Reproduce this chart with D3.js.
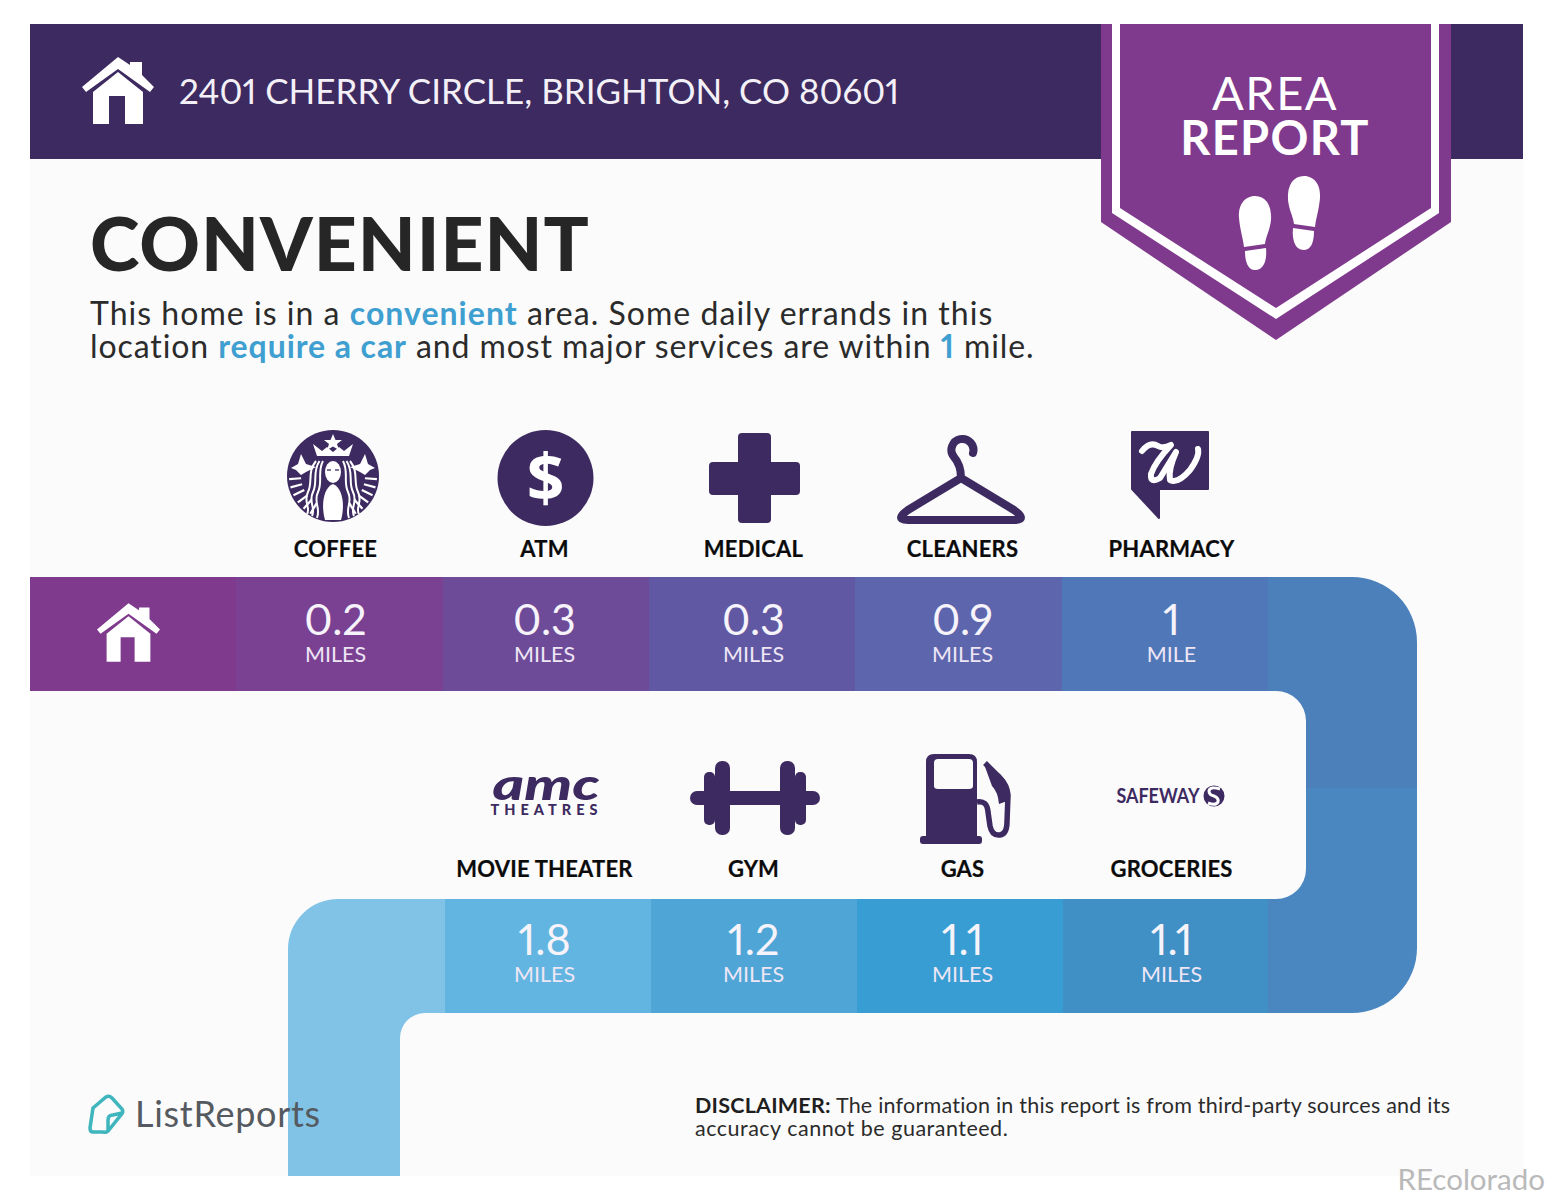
<!DOCTYPE html>
<html>
<head>
<meta charset="utf-8">
<style>
html, body { margin: 0; padding: 0; background: #fff; }
text { font-family: Lato, "Open Sans", sans-serif; font-variant-numeric: proportional-nums; }
</style>
<script src="https://cdn.jsdelivr.net/npm/d3@7"></script>
</head>
<body>
<div id="chart"></div>
<script>
// values
var topCategories = ["COFFEE", "ATM", "MEDICAL", "CLEANERS", "PHARMACY"];
var topMiles = [0.2, 0.3, 0.3, 0.9, 1];
var bottomCategories = ["MOVIE THEATER", "GYM", "GAS", "GROCERIES"];
var bottomMiles = [1.8, 1.2, 1.1, 1.1];
var address = "2401 CHERRY CIRCLE, BRIGHTON, CO 80601";
var bodyLine1 = [["This home is in a ", 0], ["convenient", 1], [" area. Some daily errands in this", 0]];
var bodyLine2 = [["location ", 0], ["require a car", 1], [" and most major services are within ", 0], ["1", 1], [" mile.", 0]];
var disclaimerLine1 = [["DISCLAIMER:", 1], [" The information in this report is from third-party sources and its", 0]];
var disclaimerLine2 = [["accuracy cannot be guaranteed.", 0]];

var dark = "#3c2a60", purple = "#7f3a8d", blue = "#3f9fd0";

var svg = d3.select("#chart").append("svg")
	.attr("width", 1553)
	.attr("height", 1200)
	.style("display", "block");

svg.append("rect").attr("x", 30).attr("y", 24).attr("width", 1493).attr("height", 1152).attr("fill", "#fbfbfb");
svg.append("rect").attr("x", 30).attr("y", 24).attr("width", 1493).attr("height", 135).attr("fill", dark);

// scales for the two rows of the ribbon
var topBand = d3.scaleBand().domain(d3.range(6)).range([30, 1268]);
var bottomBand = d3.scaleBand().domain(d3.range(4)).range([445, 1269]);
var columnX = d3.scalePoint().domain(d3.range(5)).range([335.5, 1171.5]);
var topColor = d3.scaleOrdinal().domain(d3.range(6))
	.range(["#7f3a8d", "#7a4193", "#6e4b98", "#6058a3", "#5d65ad", "#5078b8"]);
var bottomColor = d3.scaleOrdinal().domain(d3.range(4))
	.range(["#62b5e0", "#4fa6d6", "#389dd3", "#408fc5"]);

// ribbon outline, every segment gets clipped to it
var ribbon = "M30 577 H1352 A65 65 0 0 1 1417 642 V948 A65 65 0 0 1 1352 1013 H425 A25 25 0 0 0 400 1038 V1176 H288 V949 "
	+ "A50 50 0 0 1 338 899 H1276 A30 30 0 0 0 1306 869 V721 A30 30 0 0 0 1276 691 H30 Z";
svg.append("clipPath").attr("id", "ribbonClip").append("path").attr("d", ribbon);
var ribbonG = svg.append("g").attr("clip-path", "url(#ribbonClip)").attr("shape-rendering", "crispEdges");

ribbonG.selectAll(".top").data(d3.range(6)).enter().append("rect")
	.attr("x", function(d) { return topBand(d); })
	.attr("y", 577)
	.attr("width", topBand.bandwidth() + 0.5)
	.attr("height", 114)
	.attr("fill", function(d) { return topColor(d); });
ribbonG.selectAll(".bottom").data(d3.range(4)).enter().append("rect")
	.attr("x", function(d) { return bottomBand(d); })
	.attr("y", 899)
	.attr("width", bottomBand.bandwidth() + 0.5)
	.attr("height", 114)
	.attr("fill", function(d) { return bottomColor(d); });
ribbonG.append("rect").attr("x", 1268).attr("y", 577).attr("width", 150).attr("height", 211).attr("fill", "#4c80bb");
ribbonG.append("rect").attr("x", 1268).attr("y", 788).attr("width", 150).attr("height", 226).attr("fill", "#4a87c1");
ribbonG.append("rect").attr("x", 287).attr("y", 899).attr("width", 158).attr("height", 278).attr("fill", "#80c3e7");

function drawRow(cats, miles, offset, labelY, valueY, unitY) {
	var g = svg.append("g").attr("text-anchor", "middle");
	g.selectAll(".label").data(cats).enter().append("text")
		.attr("x", function(d, i) { return columnX(i + offset); })
		.attr("y", labelY)
		.attr("font-size", 22).attr("font-weight", 700).attr("letter-spacing", 0.2).attr("fill", "#0b0b0b")
		.attr("stroke", "#0b0b0b").attr("stroke-width", 0.2)
		.text(function(d) { return d; });
	g.selectAll(".value").data(miles).enter().append("text")
		.attr("x", function(d, i) { return columnX(i + offset); })
		.attr("y", valueY)
		.attr("font-size", 43).attr("font-weight", 400).attr("fill", "#f6f3fa")
		.text(function(d) { return d; });
	g.selectAll(".unit").data(miles).enter().append("text")
		.attr("x", function(d, i) { return columnX(i + offset); })
		.attr("y", unitY)
		.attr("font-size", 21.5).attr("font-weight", 400).attr("fill", "#eee6f5")
		.text(function(d) { return d === 1 ? "MILE" : "MILES"; });
}
drawRow(topCategories, topMiles, 0, 557, 635, 662);
drawRow(bottomCategories, bottomMiles, 1, 877, 955, 982);

// house icon, drawn around its own centre
function house(x, y, k) {
	var g = svg.append("g").attr("transform", "translate(" + x + "," + y + ") scale(" + k + ")").attr("fill", "#fff");
	g.append("path").attr("d", "M0 -33 L12 -25 V-28 H24 V-15 L36 -3 L32 2 L0 -21 L-32 2 L-36 -3 Z");
	g.append("path").attr("d", "M0 -18 L25 2 V34 H7 V6 H-9 V34 H-25 V2 Z");
}
house(118, 90, 1);
house(128.5, 632, 0.875);

// header
svg.append("text").attr("x", 179).attr("y", 104)
	.attr("font-size", 35).attr("fill", "#f4f0f7")
	.text(address);

// badge
svg.append("path").attr("d", "M1101 24 H1451 V222 L1276 340 L1101 222 Z").attr("fill", purple);
svg.append("path").attr("d", "M1112 24 H1120 V208 L1276 308 L1431 208 V24 H1439 V213 L1276 319 L1112 213 Z").attr("fill", "#fff");
svg.append("text").attr("x", 1275).attr("y", 110).attr("text-anchor", "middle")
	.attr("font-size", 47).attr("letter-spacing", 1.5).attr("fill", "#fff").text("AREA");
svg.append("text").attr("x", 1275).attr("y", 155).attr("text-anchor", "middle")
	.attr("font-size", 47).attr("font-weight", 700).attr("letter-spacing", 1.3).attr("fill", "#fff").text("REPORT");

function shoe(x, y, flip) {
	var g = svg.append("g").attr("transform", "translate(" + x + "," + y + ") scale(" + flip + ",1)").attr("fill", "#fff");
	g.append("path").attr("d", "M-16 -8 C-17 -24 -8 -30 0 -30 C10 -30 17 -22 16 -6 C15 4 11 10 10 18 L-11 21 C-12 12 -15 4 -16 -8 Z");
	g.append("path").attr("d", "M-10 25 L11 22 C12 32 10 44 0 44 C-8 44 -10 34 -10 25 Z");
}
shoe(1255, 226, 1);
shoe(1304, 206, -1);

// heading and intro
svg.append("text").attr("x", 90).attr("y", 271)
	.attr("font-size", 75).attr("font-weight", 900).attr("letter-spacing", 1).attr("fill", "#262626")
	.text("CONVENIENT");

function mixedLine(parts, x, y, size, color, boldColor, spacing) {
	var t = svg.append("text").attr("x", x).attr("y", y).attr("font-size", size).attr("fill", color)
		.attr("letter-spacing", spacing).style("white-space", "pre");
	t.selectAll("tspan").data(parts).enter().append("tspan")
		.attr("font-weight", function(d) { return d[1] ? 700 : 400; })
		.attr("fill", function(d) { return d[1] ? boldColor : color; })
		.text(function(d) { return d[0]; });
}
mixedLine(bodyLine1, 90, 325, 32, "#2b2b2b", blue, 1.03);
mixedLine(bodyLine2, 90, 358, 32, "#2b2b2b", blue, 0.91);

// footer
mixedLine(disclaimerLine1, 695, 1113, 21.5, "#2b2b2b", "#1f1f1f", 0.23);
mixedLine(disclaimerLine2, 695, 1136, 21.5, "#2b2b2b", "#1f1f1f", 0.5);

svg.append("text").attr("x", 135).attr("y", 1127)
	.attr("font-size", 36).attr("letter-spacing", 0.7).attr("fill", "#555a60").text("ListReports");
svg.append("path")
	.attr("d", "M93 1108 L106 1097 Q109 1095 112 1098 L122 1109 Q124 1112 121 1115 L108 1131 Q106 1133 103 1132 L93 1132 Q90 1132 90 1128 Z M108 1131 L108 1120 Q108 1115 113 1115 L122 1113")
	.attr("fill", "none").attr("stroke", "#3fb5bd").attr("stroke-width", 3.5);
svg.append("text").attr("x", 1545).attr("y", 1190).attr("text-anchor", "end")
	.attr("font-size", 29.5).attr("fill", "#b9b9b9").text("REcolorado");

// service icons
var icons = svg.append("g").attr("fill", dark);

// coffee
var siren = icons.append("g").attr("transform", "translate(333,476)");
siren.append("circle").attr("r", 46);
siren.append("path").attr("fill", "#fff").attr("d", "M0 -42 L2.5 -36 L9 -36 L4 -32 L6 -26 L0 -29.5 L-6 -26 L-4 -32 L-9 -36 L-2.5 -36 Z");
siren.append("path").attr("fill", "#fff").attr("d", "M-20 -32 L-11 -25 L-6 -29 L0 -24 L6 -29 L11 -25 L20 -32 L16 -20 L-16 -20 Z");
siren.append("path").attr("fill", "#fff").attr("d", "M-42 -8 L-35 -12 L-32 -22 L-27 -12 L-17 -9 L-27 -4 L-32 -1 L-37 -6 Z");
siren.append("path").attr("fill", "#fff").attr("d", "M42 -8 L35 -12 L32 -22 L27 -12 L17 -9 L27 -4 L32 -1 L37 -6 Z");
siren.append("ellipse").attr("cy", -4).attr("rx", 8).attr("ry", 11).attr("fill", "#fff");
siren.append("path").attr("fill", "#fff").attr("d", "M-8 44 C-12 30 -10 12 0 8 C10 12 12 30 8 44 Z");
siren.selectAll(".eye").data([-1, 1]).enter().append("line")
	.attr("stroke", dark).attr("stroke-width", 1.3)
	.attr("x1", function(s) { return s * 2; }).attr("x2", function(s) { return s * 6; })
	.attr("y1", -6).attr("y2", -6);
[-1, 1].forEach(function(s) {
	[0, 1, 2].forEach(function(h) {
		siren.append("path")
			.attr("fill", "none").attr("stroke", "#fff").attr("stroke-width", 2)
			.attr("d", "M" + s * (10 + h * 3.5) + " -15 C" + s * (16 + h * 5) + " -4 " + s * (10 + h * 5) + " 6 " + s * (15 + h * 5) + " 16 S" + s * (12 + h * 5) + " 32 " + s * (16 + h * 5) + " " + (42 - h * 2));
	});
	[0, 1, 2, 3, 4, 5].forEach(function(f) {
		var a = (4 + f * 11) * Math.PI / 180;
		siren.append("line")
			.attr("stroke", "#fff").attr("stroke-width", 2.2)
			.attr("x1", s * 32 * Math.cos(a)).attr("y1", 32 * Math.sin(a))
			.attr("x2", s * 44 * Math.cos(a)).attr("y2", 44 * Math.sin(a));
	});
});

// atm
icons.append("circle").attr("cx", 545.5).attr("cy", 478).attr("r", 48);
icons.append("text").attr("x", 545.5).attr("y", 502).attr("text-anchor", "middle")
	.attr("font-size", 66).attr("font-weight", 700).attr("fill", "#fff")
	.style("font-family", "'Open Sans', sans-serif").text("$");

// medical
icons.append("rect").attr("x", 738).attr("y", 433).attr("width", 33).attr("height", 90).attr("rx", 4);
icons.append("rect").attr("x", 709).attr("y", 462).attr("width", 91).attr("height", 33).attr("rx", 4);

// cleaners
icons.append("path")
	.attr("fill", "none").attr("stroke", dark).attr("stroke-width", 8).attr("stroke-linecap", "round").attr("stroke-linejoin", "round")
	.attr("d", "M973 453 A11 11 0 1 0 954 457 Q961 465 961 478 L908 510 Q894 520 908 520 L1014 520 Q1028 520 1014 510 L961 478");

// pharmacy
icons.append("path").attr("stroke", dark).attr("stroke-width", 2).attr("stroke-linejoin", "round")
	.attr("d", "M1132 432 H1208 V489 H1159 V518 L1132 489 Z");
icons.append("path")
	.attr("fill", "none").attr("stroke", "#fff").attr("stroke-width", 6).attr("stroke-linecap", "round").attr("stroke-linejoin", "round")
	.attr("d", "M1142 451 Q1150 441 1158 446 Q1163 449 1171 445 Q1155 462 1151 474 Q1150 484 1160 478 L1176 452 Q1168 470 1170 480 Q1178 484 1190 470 Q1200 456 1198 449");

// movie theater
icons.append("text").attr("x", 546).attr("y", 800).attr("text-anchor", "middle")
	.attr("font-size", 44).attr("font-weight", 900).attr("font-style", "italic").attr("textLength", 107).attr("lengthAdjust", "spacingAndGlyphs")
	.text("amc");
icons.append("text").attr("x", 546.5).attr("y", 815).attr("text-anchor", "middle")
	.attr("font-size", 14.5).attr("font-weight", 900).attr("letter-spacing", 5)
	.text("THEATRES");

// gym
icons.append("rect").attr("x", 690).attr("y", 791).attr("width", 130).attr("height", 14).attr("rx", 7);
[704, 795].forEach(function(x) {
	icons.append("rect").attr("x", x).attr("y", 772).attr("width", 11).attr("height", 53).attr("rx", 5);
});
[715, 780].forEach(function(x) {
	icons.append("rect").attr("x", x).attr("y", 761).attr("width", 15).attr("height", 74).attr("rx", 7);
});

// gas
icons.append("path").attr("fill-rule", "evenodd")
	.attr("d", "M934 754 H969 Q977 754 977 762 V838 H926 V762 Q926 754 934 754 Z M938 759 Q934 759 934 763 V786 Q934 789 938 789 H969 Q973 789 973 786 V763 Q973 759 969 759 Z");
icons.append("rect").attr("x", 920).attr("y", 836).attr("width", 62).attr("height", 8).attr("rx", 3);
icons.append("path")
	.attr("fill", "none").attr("stroke", dark).attr("stroke-width", 5.5)
	.attr("d", "M977 802 Q987 800 988 812 L990 826 Q992 836 1000 835 Q1007 834 1007 822 L1008 795 Q1007 785 1000 778 L985 763");
icons.append("path").attr("d", "M984 764 L1000 774 Q1010 785 1010 800 L999 804 Q998 792 992 786 Z");

// groceries
icons.append("text").attr("x", 1158).attr("y", 803).attr("text-anchor", "middle")
	.attr("font-size", 20).attr("font-weight", 700).attr("textLength", 83).attr("lengthAdjust", "spacingAndGlyphs")
	.text("SAFEWAY");
icons.append("circle").attr("cx", 1214).attr("cy", 796).attr("r", 10.5);
icons.append("path").attr("fill", "none").attr("stroke", "#fff").attr("stroke-width", 3)
	.attr("d", "M1220 789 Q1210 786 1209 791 Q1209 795 1214 796 Q1219 798 1218 802 Q1216 806 1208 803");
</script>
</body>
</html>
